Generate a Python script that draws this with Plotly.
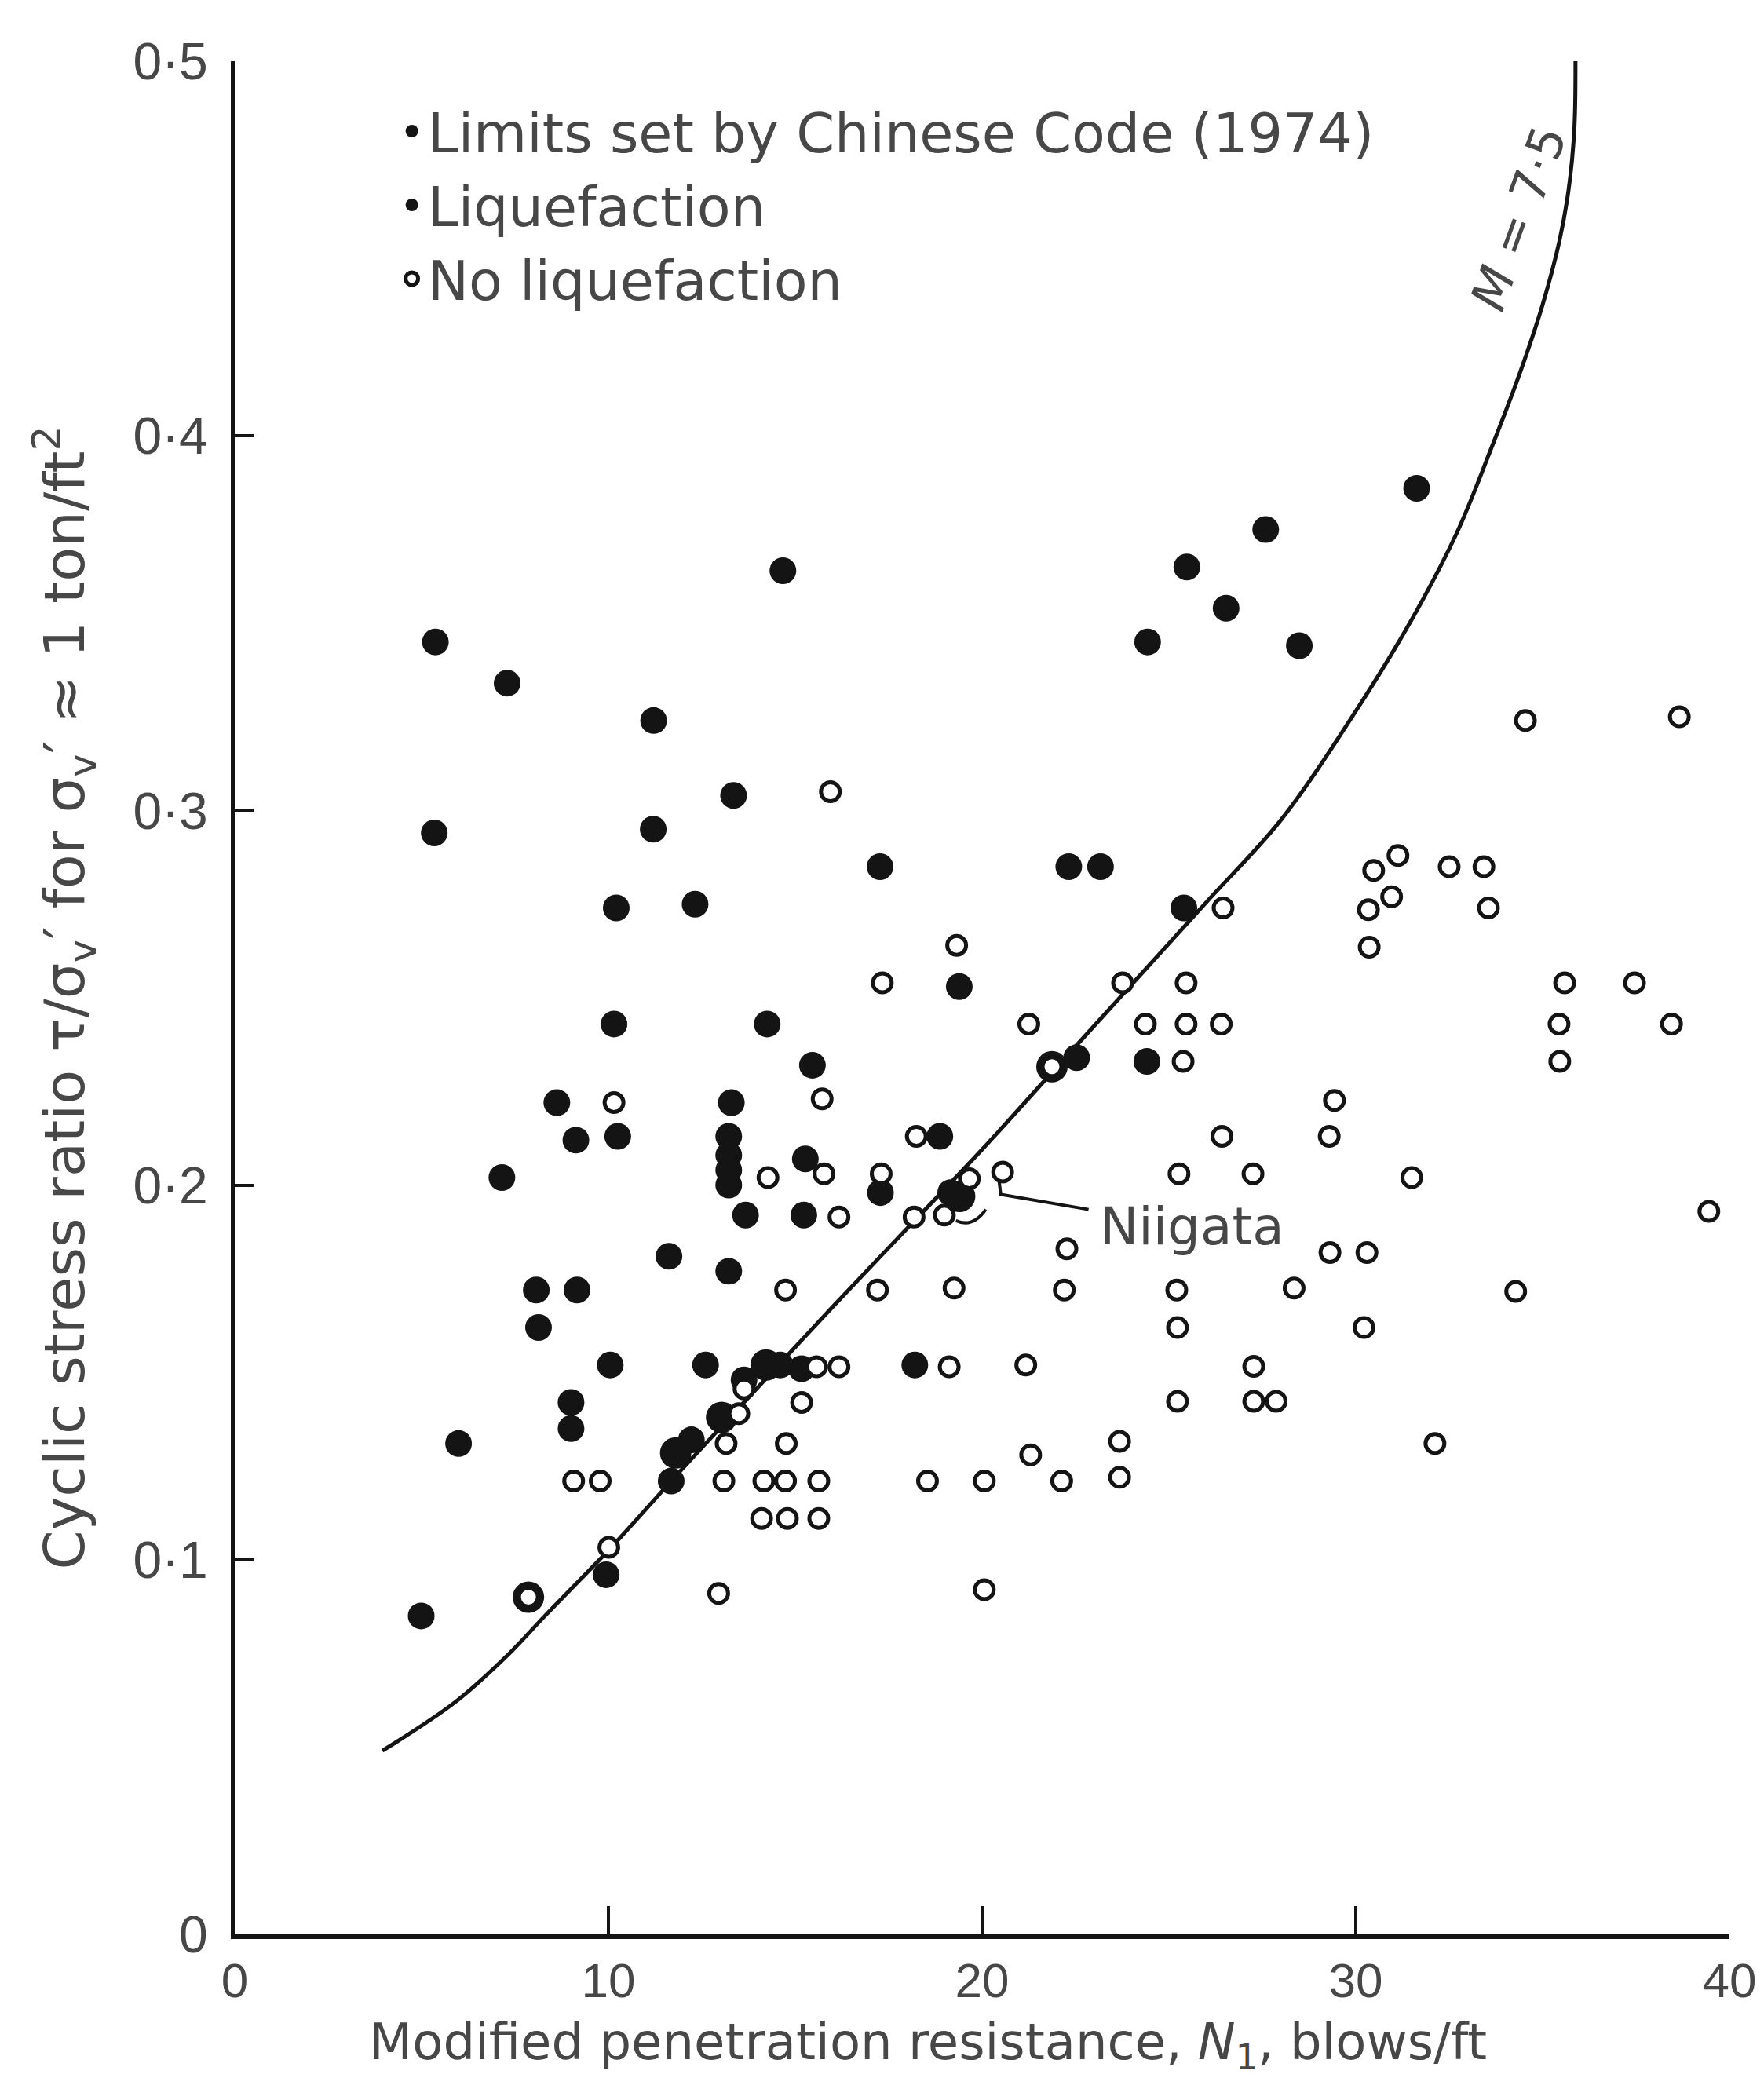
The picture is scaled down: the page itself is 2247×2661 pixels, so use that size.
import plotly.graph_objects as go

# ---------------- data ----------------
chinese_x = [7.86, 11.8, 13.03, 14.22, 19.4, 21.87]
chinese_y = [0.090, 0.1285, 0.138, 0.152, 0.197, 0.2316]

liq_x = [5.37, 5.34, 7.29, 11.21, 11.2, 13.35, 14.67,
         10.21, 12.32, 10.15, 14.25, 17.27, 15.46, 19.39,
         8.62, 13.29, 9.13, 10.25, 7.15,
         13.22, 13.22, 13.22, 13.22,
         15.27, 13.67, 15.23, 17.28, 11.62, 13.22,
         8.07, 9.16, 8.13, 10.05, 12.6, 18.2,
         9.0, 9.0, 5.99, 4.99, 9.94,
         18.87, 19.16,
         22.32, 23.17, 22.53, 24.41, 25.4,
         24.43, 25.48, 26.53, 27.59, 28.49, 31.63,
         11.68, 12.22, 13.63, 15.17, 14.6]
liq_y = [0.345, 0.294, 0.334, 0.324, 0.295, 0.304, 0.364,
         0.274, 0.275, 0.243, 0.243, 0.285, 0.232, 0.253,
         0.222, 0.222, 0.212, 0.213, 0.202,
         0.213, 0.208, 0.204, 0.200,
         0.207, 0.192, 0.192, 0.198, 0.181, 0.177,
         0.172, 0.172, 0.162, 0.152, 0.152, 0.152,
         0.142, 0.135, 0.131, 0.085, 0.096,
         0.213, 0.198,
         0.285, 0.285, 0.234, 0.233, 0.274,
         0.345, 0.365, 0.354, 0.375, 0.344, 0.386,
         0.121, 0.132, 0.148, 0.151, 0.152]

noliq_x = [15.94, 17.33, 19.32, 21.25, 23.76,
           24.37, 25.46, 26.4, 25.46, 26.45, 25.38,
           10.15, 15.72, 18.24, 14.27, 15.77, 16.17, 17.3,
           18.18, 18.99, 19.66, 20.55,
           14.74, 17.2, 19.25, 22.2, 25.21,
           22.27, 26.42, 25.27, 27.25,
           29.43, 29.29, 31.5, 39.45, 29.31, 30.3,
           28.35, 34.28, 25.23, 30.22, 27.27,
           25.23, 27.27, 27.87, 32.12, 23.68, 23.68,
           15.57, 16.17, 19.12, 21.17,
           15.17, 14.76, 13.63, 13.49, 13.15,
           9.07, 9.78, 13.09, 14.16, 14.74, 15.63,
           14.1, 14.79, 15.63,
           18.54, 20.06, 21.3, 22.13,
           10.01, 12.95, 20.06,
           34.54, 38.66, 31.13, 30.48, 32.5, 33.43,
           30.96, 30.34, 33.55, 30.36, 40.19,
           35.59, 37.46, 35.44, 38.45, 35.46,
           7.86, 21.87]
noliq_y = [0.305, 0.254, 0.264, 0.243, 0.254,
           0.243, 0.243, 0.243, 0.254, 0.274, 0.233,
           0.222, 0.223, 0.213, 0.202, 0.203, 0.1915, 0.203,
           0.1915, 0.192, 0.2017, 0.2035,
           0.172, 0.172, 0.1725, 0.172, 0.172,
           0.183, 0.213, 0.203, 0.203,
           0.2226, 0.213, 0.202, 0.193, 0.182, 0.182,
           0.1725, 0.1716, 0.162, 0.162, 0.1516,
           0.1423, 0.1423, 0.1423, 0.131, 0.1316, 0.122,
           0.1515, 0.1515, 0.1515, 0.152,
           0.142, 0.131, 0.1456, 0.139, 0.131,
           0.121, 0.121, 0.121, 0.121, 0.121, 0.121,
           0.111, 0.111, 0.111,
           0.121, 0.121, 0.128, 0.121,
           0.1033, 0.091, 0.092,
           0.324, 0.325, 0.288, 0.284, 0.285, 0.285,
           0.277, 0.2735, 0.274, 0.2635, 0.2635,
           0.254, 0.254, 0.243, 0.243, 0.233,
           0.090, 0.2316]

curve_x = [3.95, 5.9, 7.3, 8.3, 10.0, 12.0, 14.0, 16.0, 18.0, 20.0, 22.0, 24.0,
           26.0, 28.0, 30.0, 31.5, 32.7, 33.6, 34.4, 35.0, 35.45, 35.7, 35.85, 35.88]
curve_y = [0.049, 0.062, 0.0745, 0.085, 0.1025, 0.1245, 0.146, 0.1675, 0.1885, 0.2095, 0.2315, 0.2535,
           0.2755, 0.2975, 0.3265, 0.351, 0.374, 0.396, 0.417, 0.435, 0.452, 0.466, 0.482, 0.5]

x_tick_vals = [0, 10, 20, 30, 40]
x_tick_text = ["0", "10", "20", "30", "40"]
y_tick_vals = [0, 0.1, 0.2, 0.3, 0.4, 0.5]
y_tick_text = ["0", "0·1", "0·2", "0·3", "0·4", "0·5"]

x_title = "Modified penetration resistance, <i>N</i><sub>1</sub>, blows/ft"
y_title = "Cyclic stress ratio τ/σ<sub>v</sub>′ for σ<sub>v</sub>′ ≈ 1 ton/ft<sup>2</sup>"

# ---------------- styling ----------------
TICKFONT = "Liberation Sans, Arial, sans-serif"
FONT = "DejaVu Sans, Liberation Sans, sans-serif"
TXT = "#474747"
INK = "#141414"

fig = go.Figure()

fig.add_trace(go.Scatter(
    x=curve_x, y=curve_y, mode="lines", showlegend=False,
    line=dict(color=INK, width=5, shape="spline", smoothing=1.0),
    hoverinfo="skip"))

fig.add_trace(go.Scatter(
    x=chinese_x, y=chinese_y, mode="markers", name="Limits set by Chinese Code (1974)",
    marker=dict(symbol="circle", size=40, color=INK, line=dict(width=0)),
    cliponaxis=False))

fig.add_trace(go.Scatter(
    x=liq_x, y=liq_y, mode="markers", name="Liquefaction",
    marker=dict(symbol="circle", size=34, color=INK, line=dict(width=0)),
    cliponaxis=False))

fig.add_trace(go.Scatter(
    x=noliq_x, y=noliq_y, mode="markers", name="No liquefaction",
    marker=dict(symbol="circle", size=24, color="white", line=dict(width=5, color=INK)),
    cliponaxis=False))

# Niigata label with leader
fig.add_annotation(x=23.1, y=0.189, xref="x", yref="y", text="Niigata",
                   showarrow=False, xanchor="left", yanchor="middle",
                   font=dict(family=FONT, size=66, color=TXT))
fig.add_shape(type="path", xref="x", yref="y",
              path="M 20.45 0.2015 L 20.5 0.1975 L 22.85 0.1935",
              line=dict(color=INK, width=4))
fig.add_shape(type="path", xref="x", yref="y",
              path="M 19.3 0.1905 Q 19.75 0.1885 20.1 0.1935",
              line=dict(color=INK, width=4))

# curve label
fig.add_annotation(x=34.35, y=0.458, xref="x", yref="y", text="<i>M</i> = 7·5",
                   showarrow=False, textangle=-70,
                   font=dict(family=FONT, size=62, color=TXT))

# x-axis title (placed as in the reference, slightly left of centre)
fig.add_annotation(x=0.464, y=-0.0775, xref="paper", yref="paper", text=x_title,
                   showarrow=False, xanchor="center", yanchor="bottom",
                   font=dict(family=FONT, size=64, color=TXT))

W, H = 2247 - 16, 2661 - 16
fig.update_layout(
    width=W, height=H,
    margin=dict(l=291, r=36, t=70, b=189, autoexpand=False),
    paper_bgcolor="white", plot_bgcolor="white",
    font=dict(family=FONT, color=TXT, size=64),
    showlegend=True,
    legend=dict(x=0.108, y=0.9845, xanchor="left", yanchor="top",
                bgcolor="rgba(0,0,0,0)", borderwidth=0,
                font=dict(family=FONT, size=70, color=TXT),
                tracegroupgap=0, itemwidth=30),
    xaxis=dict(range=[0, 40.001], tickvals=x_tick_vals, ticktext=x_tick_text,
               automargin=False,
               showgrid=False, zeroline=False, showline=True, linecolor=INK, linewidth=6,
               ticks="inside", ticklen=36, tickwidth=4, tickcolor=INK,
               ticklabeloverflow="allow",
               tickfont=dict(family=TICKFONT, size=62, color=TXT)),
    yaxis=dict(range=[0, 0.5], tickvals=y_tick_vals, ticktext=y_tick_text,
               automargin=False,
               showgrid=False, zeroline=False, showline=True, linecolor=INK, linewidth=5,
               ticks="inside", ticklen=24, tickwidth=4, tickcolor=INK,
               ticklabelstandoff=16,
               tickfont=dict(family=TICKFONT, size=66, color=TXT),
               title=dict(text=y_title,
                          font=dict(family=FONT, size=72, color=TXT), standoff=40)),
)

fig.write_html("out.html")
